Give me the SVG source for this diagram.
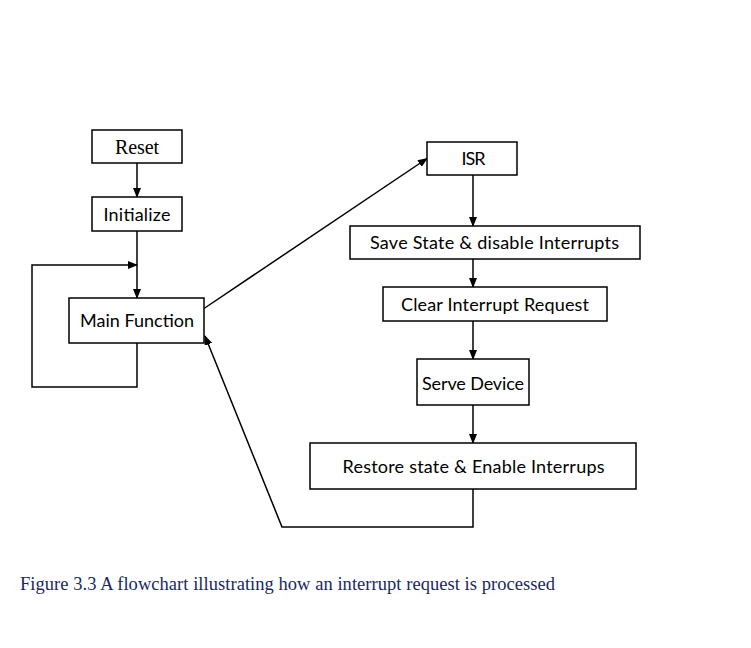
<svg xmlns="http://www.w3.org/2000/svg" width="751" height="648" viewBox="0 0 751 648">
<style>
.box{fill:#fff;stroke:#000;stroke-width:1.5}
.t{font-family:Lato,"Open Sans","Liberation Sans",sans-serif;font-size:18px;fill:#000;text-anchor:middle}
.ts{font-family:"Liberation Serif","Times New Roman",serif;font-size:20px;fill:#000;text-anchor:middle}
.c{fill:none;stroke:#000;stroke-width:1.5}
.cap{font-family:"Liberation Serif","Times New Roman",serif;font-size:18.5px;fill:#1a2860}
</style>
<defs>
<marker id="ah" markerWidth="10" markerHeight="8" refX="9" refY="4" orient="auto" markerUnits="userSpaceOnUse">
<path d="M0,0 L10,4 L0,8 Z" fill="#000"/>
</marker>
</defs>
<rect width="751" height="648" fill="#fff"/>
<g id="connectors">
<line class="c" x1="137" y1="163" x2="137" y2="197" marker-end="url(#ah)"/>
<line class="c" x1="137" y1="231" x2="137" y2="298" marker-end="url(#ah)"/>
<polyline class="c" points="137,343 137,387 32,387 32,265 137,265" marker-end="url(#ah)"/>
<line class="c" x1="204" y1="308.5" x2="427" y2="158.5" marker-end="url(#ah)"/>
<line class="c" x1="473" y1="175" x2="473" y2="226" marker-end="url(#ah)"/>
<line class="c" x1="473" y1="259" x2="473" y2="287" marker-end="url(#ah)"/>
<line class="c" x1="473" y1="321" x2="473" y2="359" marker-end="url(#ah)"/>
<line class="c" x1="473" y1="405" x2="473" y2="443" marker-end="url(#ah)"/>
<polyline class="c" points="473,489 473,527 282,527 205,336" marker-end="url(#ah)"/>
</g>
<g id="reset"><rect class="box" x="92" y="130" width="90" height="33"/><text class="ts" x="137" y="153.5" textLength="44">Reset</text></g>
<g id="initialize"><rect class="box" x="92" y="197" width="90" height="34"/><text class="t" x="137" y="220.5" textLength="67">Initialize</text></g>
<g id="main"><rect class="box" x="69" y="298" width="135" height="45"/><text class="t" x="137" y="327" textLength="114">Main Function</text></g>
<g id="isr"><rect class="box" x="427" y="142" width="90" height="33"/><text class="t" x="473.5" y="164.5" textLength="24">ISR</text></g>
<g id="save"><rect class="box" x="350" y="226" width="290" height="33"/><text class="t" x="494.5" y="248.5" textLength="249">Save State &amp; disable Interrupts</text></g>
<g id="clear"><rect class="box" x="383" y="287" width="224" height="34"/><text class="t" x="495" y="310.5" textLength="188">Clear Interrupt Request</text></g>
<g id="serve"><rect class="box" x="417" y="359" width="112" height="46"/><text class="t" x="473" y="389.5" textLength="102">Serve Device</text></g>
<g id="restore"><rect class="box" x="310" y="443" width="326" height="46"/><text class="t" x="473.5" y="473" textLength="262">Restore state &amp; Enable Interrups</text></g>
<text class="cap" x="20" y="590" textLength="535">Figure 3.3 A flowchart illustrating how an interrupt request is processed</text>
</svg>
